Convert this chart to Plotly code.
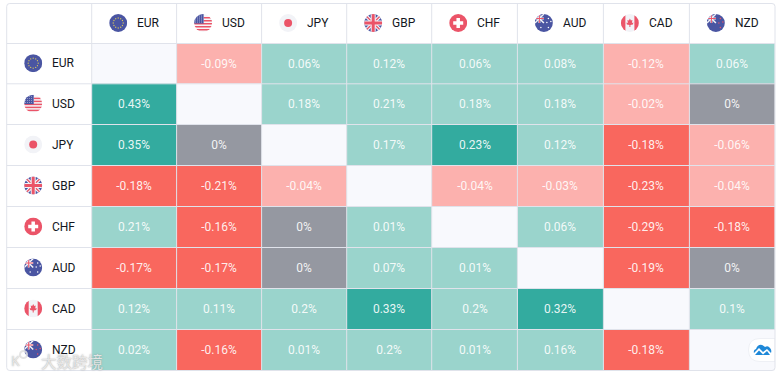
import base64
import plotly.graph_objects as go

currencies = ["EUR", "USD", "JPY", "GBP", "CHF", "AUD", "CAD", "NZD"]
eur = [None, -0.09, 0.06, 0.12, 0.06, 0.08, -0.12, 0.06]
usd = [0.43, None, 0.18, 0.21, 0.18, 0.18, -0.02, 0]
jpy = [0.35, 0, None, 0.17, 0.23, 0.12, -0.18, -0.06]
gbp = [-0.18, -0.21, -0.04, None, -0.04, -0.03, -0.23, -0.04]
chf = [0.21, -0.16, 0, 0.01, None, 0.06, -0.29, -0.18]
aud = [-0.17, -0.17, 0, 0.07, 0.01, None, -0.19, 0]
cad = [0.12, 0.11, 0.2, 0.33, 0.2, 0.32, None, 0.1]
nzd = [0.02, -0.16, 0.01, 0.2, 0.01, 0.16, -0.18, None]
rows = [eur, usd, jpy, gbp, chf, aud, cad, nzd]

W, H = 783, 376
col_edges = [6.7, 91.7, 176.6, 261.6, 346.7, 431.7, 517.4, 603.4, 689.4, 775]
row_edges = [3.5, 43.5, 83.8, 124.5, 165.5, 206.5, 247.5, 288.5, 329.5, 370.5]
LINE = "#e0e3eb"
DIAG, DARK_R, LIGHT_R, GREY, LIGHT_G, DARK_G = "#f8f9fd", "#f9675e", "#fcb1ae", "#9598a1", "#9ad4cc", "#33ab9f"


def category(v):
    if v is None:
        return 0
    if v == 0:
        return 3
    if v <= -0.16:
        return 1
    if v < 0:
        return 2
    return 5 if v >= 0.23 else 4


palette = [DIAG, DARK_R, LIGHT_R, GREY, LIGHT_G, DARK_G]
scale = []
for i, c in enumerate(palette):
    scale += [[i / 6, c], [(i + 1) / 6, c]]

fig = go.Figure(go.Heatmap(
    x=col_edges[1:], y=row_edges[1:],
    z=[[category(v) for v in r] for r in rows],
    text=[["" if v is None else f"{v:g}%" for v in r] for r in rows],
    texttemplate="%{text}",
    textfont=dict(family="Roboto", size=12, color="rgba(255,255,255,0.9)"),
    colorscale=scale, zmin=0, zmax=6, showscale=False, hoverinfo="skip",
))


def svg_uri(body):
    s = ('<svg xmlns="http://www.w3.org/2000/svg" viewBox="0 0 36 36" width="36" height="36">'
         '<defs><clipPath id="c"><circle cx="18" cy="18" r="18"/></clipPath></defs>'
         f'<g clip-path="url(#c)">{body}</g></svg>')
    return "data:image/svg+xml;base64," + base64.b64encode(s.encode()).decode()


BLUE, RED, PALE = "#4a55a2", "#eb5468", "#f2f3f7"
stars_eu = "".join(f'<circle cx="{x}" cy="{y}" r="1.3" fill="#d9c65c"/>' for x, y in
                   [(18, 8), (23, 9.5), (26.5, 13), (28, 18), (26.5, 23), (23, 26.5), (18, 28), (13, 26.5),
                    (9.5, 23), (8, 18), (9.5, 13), (13, 9.5)])
stripes = "".join(f'<rect x="0" y="{y}" width="36" height="3" fill="{RED}"/>' for y in (18, 24, 30))
stripes += "".join(f'<rect x="19" y="{y}" width="17" height="3" fill="{RED}"/>' for y in (6, 12))
dots = "".join(f'<circle cx="{x}" cy="{y}" r="0.9" fill="#fff"/>' for y in (4, 8, 12, 16) for x in (3, 7, 11, 15))
ukmini = (f'<rect width="18" height="18" fill="{BLUE}"/>'
          f'<path d="M0 0L18 18M18 0L0 18" stroke="#f2f3f7" stroke-width="3"/>'
          f'<path d="M9 0V18M0 9H18" stroke="#f2f3f7" stroke-width="4"/>'
          f'<path d="M9 0V18M0 9H18" stroke="{RED}" stroke-width="2"/>')
flags = {
    "EUR": f'<rect width="36" height="36" fill="{BLUE}"/>' + stars_eu,
    "USD": f'<rect width="36" height="36" fill="#f6f6f9"/>{stripes}<rect width="19" height="19" fill="{BLUE}"/>{dots}',
    "JPY": f'<rect width="36" height="36" fill="{PALE}"/><circle cx="18" cy="18" r="8" fill="{RED}"/>',
    "GBP": (f'<rect width="36" height="36" fill="{BLUE}"/>'
            '<path d="M0 0L36 36M36 0L0 36" stroke="#f2f3f7" stroke-width="7"/>'
            f'<path d="M0 0L36 36M36 0L0 36" stroke="{RED}" stroke-width="2.5"/>'
            '<path d="M18 0V36M0 18H36" stroke="#f2f3f7" stroke-width="10"/>'
            f'<path d="M18 0V36M0 18H36" stroke="{RED}" stroke-width="6"/>'),
    "CHF": f'<rect width="36" height="36" fill="{RED}"/><path d="M18 8V28M8 18H28" stroke="#fff" stroke-width="7"/>',
    "AUD": (f'<rect width="36" height="36" fill="{BLUE}"/>{ukmini}' +
            "".join(f'<circle cx="{x}" cy="{y}" r="1.5" fill="#fff"/>' for x, y in
                    [(27, 9), (32, 15), (24, 17), (27, 27), (12, 27)])),
    "CAD": (f'<rect width="36" height="36" fill="{PALE}"/><rect width="9" height="36" fill="{RED}"/>'
            f'<rect x="27" width="9" height="36" fill="{RED}"/>'
            f'<path d="M18 9L20 13L23 12L22 18L25 17L24 21L19 22V26H17V22L12 21L11 17L14 18L13 12L16 13Z" fill="{RED}"/>'),
    "NZD": (f'<rect width="36" height="36" fill="{BLUE}"/>{ukmini}' +
            "".join(f'<circle cx="{x}" cy="{y}" r="1.5" fill="{RED}"/>' for x, y in
                    [(27, 9), (32, 16), (24, 18), (27, 27)])),
}

images, annotations, shapes = [], [], []
xr = dict(xref="x", yref="y")
for i, cur in enumerate(currencies):
    cy = (row_edges[i + 1] + row_edges[i + 2]) / 2 - 0.5
    hy = (row_edges[0] + row_edges[1]) / 2 - 0.5
    x0 = col_edges[0]
    xh = col_edges[i + 1]
    for left, mid in ((x0, cy), (xh, hy)):
        images.append(dict(source=svg_uri(flags[cur]), x=left + 26.5, y=mid, sizex=18, sizey=18,
                           xanchor="center", yanchor="middle", layer="above", sizing="stretch", **xr))
        annotations.append(dict(x=left + 43.5, y=mid, text=cur, showarrow=False, xanchor="left", yanchor="middle",
                                font=dict(family="Roboto", size=12, color="#131722"), **xr))

for x in col_edges[1:-1]:
    shapes.append(dict(type="line", x0=x, x1=x, y0=row_edges[0], y1=row_edges[-1], line=dict(color=LINE, width=1), **xr))
for y in row_edges[1:-1]:
    shapes.append(dict(type="line", x0=col_edges[0], x1=col_edges[-1], y0=y, y1=y, line=dict(color=LINE, width=1), **xr))
l, r, t, b = col_edges[0], col_edges[-1], row_edges[0], row_edges[-1]
shapes.append(dict(type="path", line=dict(color=LINE, width=1),
                   path=f"M{l+3} {t}H{r-3}Q{r} {t} {r} {t+3}V{b-3}Q{r} {b} {r-3} {b}H{l+3}Q{l} {b} {l} {b-3}V{t+3}Q{l} {t} {l+3} {t}Z", **xr))
# The pill and its cloud sit in one image, because shapes are drawn over images.
pill = ('<svg xmlns="http://www.w3.org/2000/svg" viewBox="0 0 27 24" width="27" height="24">'
        '<path d="M27 0.5H12Q0.5 0.5 0.5 12Q0.5 23.5 12 23.5H27Z" fill="#ffffff" stroke="#eef0f5"/>'
        '<path d="M6 15Q5 12 8 11Q10 6 14 7Q16 8 17 9Q20 7 22 10Q24 12 23 15L19 11L15 14L11 10Z" fill="#1e88d8"/>'
        '<path d="M7 17L11 12.5L15 16.5L19 13L22 17Z" fill="#1e88d8"/></svg>')
images.append(dict(source="data:image/svg+xml;base64," + base64.b64encode(pill.encode()).decode(),
                   x=748, y=338, sizex=27, sizey=24, xanchor="left", yanchor="top",
                   layer="above", sizing="stretch", **xr))
WM = "rgba(238,238,238,0.88)"
annotations.append(dict(x=39, y=361, text="大数跨境", showarrow=False, xanchor="left", yanchor="middle",
                        font=dict(family="Noto Sans CJK SC", size=15.5, color=WM, shadow="0 0 1.5px #8a8a8a"), **xr))
annotations.append(dict(x=15, y=360, text="K", showarrow=False, xanchor="center", yanchor="middle",
                        font=dict(family="Open Sans", size=14, color=WM, shadow="0 0 1.5px #8a8a8a"), **xr))
shapes.append(dict(type="circle", x0=20, x1=27, y0=351, y1=358, line=dict(color="rgba(225,225,225,0.85)", width=2), **xr))

fig.update_layout(
    width=W, height=H, margin=dict(l=0, r=0, t=0, b=0),
    paper_bgcolor="#ffffff", plot_bgcolor="#ffffff",
    xaxis=dict(range=[0, W], visible=False, fixedrange=True),
    yaxis=dict(range=[H, 0], visible=False, fixedrange=True),
    images=images, annotations=annotations, shapes=shapes,
)
fig.write_html("out.html", config=dict(displayModeBar=False),
               post_script="document.body.style.margin='0';document.documentElement.style.overflow='hidden';")
